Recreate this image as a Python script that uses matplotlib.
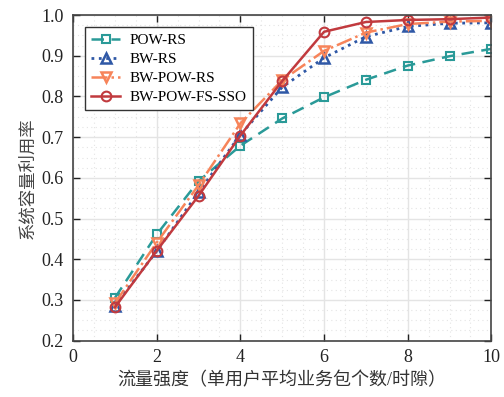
import numpy as np
from matplotlib import pyplot as plt
from matplotlib.ticker import MultipleLocator

# 流量强度
x = [1, 2, 3, 4, 5, 6, 7, 8, 9, 10]

pow_rs = [0.305, 0.461, 0.592, 0.679, 0.746, 0.798, 0.841, 0.876, 0.899, 0.917]
bw_rs = [0.286, 0.420, 0.565, 0.706, 0.823, 0.895, 0.947, 0.972, 0.980, 0.981]
bw_pow_rs = [0.292, 0.441, 0.582, 0.734, 0.840, 0.912, 0.957, 0.978, 0.984, 0.986]
bw_pow_fs_sso = [0.282, 0.421, 0.556, 0.704, 0.838, 0.959, 0.983, 0.988, 0.990, 0.994]

labels = ['POW-RS', 'BW-RS', 'BW-POW-RS', 'BW-POW-FS-SSO']
xlabel = '流量强度（单用户平均业务包个数/时隙）'
ylabel = '系统容量利用率'

plt.rcParams['font.family'] = ['Liberation Serif', 'Noto Sans CJK SC']

fig = plt.figure(figsize=(5.04, 3.97), dpi=100)
ax = fig.add_axes([0.145, 0.142, 0.83, 0.820])

ax.plot(x, pow_rs, color='#2A9A98', ls=(0, (5, 3)), lw=1.8, marker='s', ms=6,
        mfc='none', mew=1.5, label=labels[0])
ax.plot(x, bw_rs, color='#2F58A6', ls=':', lw=2.0, marker='^', ms=7,
        mfc='none', mew=1.8, label=labels[1])
ax.plot(x, bw_pow_rs, color='#F7845A', ls='-.', lw=1.8, marker='v', ms=7,
        mfc='none', mew=1.8, label=labels[2])
ax.plot(x, bw_pow_fs_sso, color='#C13A3E', ls='-', lw=1.8, marker='o', ms=7,
        mfc='none', mew=1.5, label=labels[3])

ax.set_xlim(0, 10)
ax.set_ylim(0.2, 1.0)
ax.xaxis.set_major_locator(MultipleLocator(2))
ax.xaxis.set_minor_locator(MultipleLocator(0.5))
ax.yaxis.set_major_locator(MultipleLocator(0.1))
ax.yaxis.set_minor_locator(MultipleLocator(0.025))
ax.yaxis.set_major_formatter(plt.FuncFormatter(lambda v, p: f'{v:.1f}'))

ax.grid(which='major', color='#E4E4E4', lw=1.0)
ax.grid(which='minor', color='#E4E4E4', lw=0.8, ls=(0, (1, 3)))
ax.set_axisbelow(True)

ax.tick_params(which='major', direction='in', length=5, width=1.0,
               top=True, right=True, labelsize=13, colors='#222222')
ax.tick_params(axis='x', pad=6)
ax.tick_params(axis='y', pad=7)
ax.tick_params(which='minor', length=0)
for s in ax.spines.values():
    s.set_color('#444444')
    s.set_linewidth(1.2)

ax.set_xlabel(xlabel, fontsize=13, color='#333333', labelpad=4)
ax.set_ylabel(ylabel, fontsize=12.5, color='#444444', labelpad=3)

leg = ax.legend(loc='upper left', bbox_to_anchor=(0.029, 0.963), borderaxespad=0,
                fontsize=11, fancybox=False, edgecolor='#333333', framealpha=1,
                handlelength=1.9, handletextpad=0.6, borderpad=0.4,
                labelspacing=0.35)
leg.get_frame().set_linewidth(1.0)

plt.savefig('out.png', dpi=100)
